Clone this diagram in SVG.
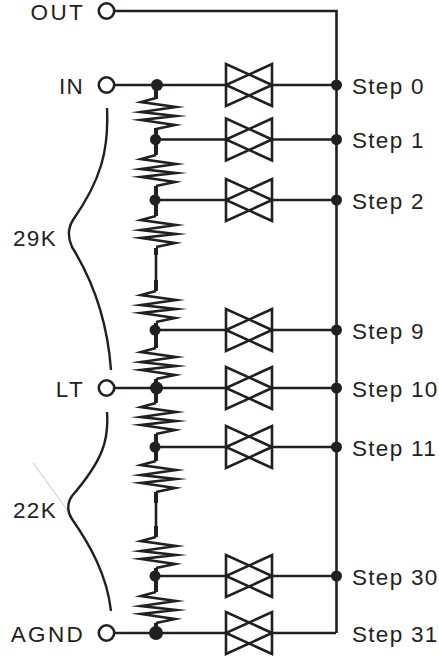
<svg xmlns="http://www.w3.org/2000/svg" xmlns:xlink="http://www.w3.org/1999/xlink" width="439" height="656" viewBox="0 0 439 656">
<style>
.w{fill:none;stroke:#231f20;stroke-width:2.6}
.th{fill:none;stroke:#231f20;stroke-width:4}
.sw{fill:none;stroke:#231f20;stroke-width:2.6;stroke-miterlimit:6}
.r{fill:none;stroke:#231f20;stroke-width:2.6;stroke-miterlimit:12;stroke-linejoin:miter}
.d{fill:#231f20}
.t{fill:#fff;stroke:#231f20;stroke-width:2.6}
text{font-family:"Liberation Sans",Arial,sans-serif;font-size:22.500px;fill:#231f20;letter-spacing:1.300px}
.e{text-anchor:end}
.x{letter-spacing:2.300px}
</style>
<defs>
<g id="sw"><path class="sw" d="M226-21V21L272 0ZM272-21V21L226 0Z"/></g>
<g id="res"><path class="r" d="M0-17L-15-13L20-8L-15-3L20 1L-15 5L19 10L0 14"/></g>
</defs>
<rect width="439" height="656" fill="#fff"/>
<g id="connectors">
<path class="w" d="M114 11H336.500V633M114 85H226M272 85H336M157 139.500H226M272 139.500H336M155 200H226M272 200H336M155 330H226M272 330H336M114 388H226M272 388H336M155 447H226M272 447H336M155 576H226M272 576H336M114 633H226M272 633H336"/>
<path class="th" d="M156 85V99M156 128V155M156 186V216M156 248V255M156 280V291M156 323V348M156 379V403M156 434V461M156 492V503M156 526V537M156 568V592M156 623V633"/>
<path class="w" d="M156 255V280M156 503V526"/>
<path d="M33 463L68 511" fill="none" stroke="#c8c8c8" stroke-width="1"/>
<path fill="none" stroke="#231f20" stroke-width="2.4" d="M107 108C109 150 101 180 73 220C68 228 67 236 72 247C90 276 107 315 111 370"/>
<path fill="none" stroke="#231f20" stroke-width="2.4" d="M107 412C109 440 103 460 72 496C67 503 67 512 72 519C90 545 107 575 111 611"/>
</g>
<g id="resistors">
<use xlink:href="#res" href="#res" x="156" y="115"/>
<use xlink:href="#res" href="#res" x="156" y="172"/>
<use xlink:href="#res" href="#res" x="156" y="233"/>
<use xlink:href="#res" href="#res" x="156" y="308"/>
<use xlink:href="#res" href="#res" x="156" y="365"/>
<use xlink:href="#res" href="#res" x="156" y="420"/>
<use xlink:href="#res" href="#res" x="156" y="478"/>
<use xlink:href="#res" href="#res" x="156" y="554"/>
<use xlink:href="#res" href="#res" x="156" y="609"/>
</g>
<g id="switches">
<use xlink:href="#sw" href="#sw" y="85"/>
<use xlink:href="#sw" href="#sw" y="139.500"/>
<use xlink:href="#sw" href="#sw" y="200"/>
<use xlink:href="#sw" href="#sw" y="330"/>
<use xlink:href="#sw" href="#sw" y="388"/>
<use xlink:href="#sw" href="#sw" y="447"/>
<use xlink:href="#sw" href="#sw" y="576"/>
<use xlink:href="#sw" href="#sw" y="633"/>
</g>
<g id="junctions">
<circle class="d" cx="157" cy="85" r="6"/>
<circle class="d" cx="155.500" cy="139.500" r="5.500"/>
<circle class="d" cx="155" cy="200" r="5.500"/>
<circle class="d" cx="155" cy="330" r="5.500"/>
<circle class="d" cx="156.500" cy="388" r="6.500"/>
<circle class="d" cx="155" cy="447" r="5.500"/>
<circle class="d" cx="155" cy="576" r="5.500"/>
<circle class="d" cx="156" cy="633" r="7"/>
<circle class="d" cx="336.500" cy="85" r="5.500"/>
<circle class="d" cx="336.500" cy="139.500" r="5.500"/>
<circle class="d" cx="336.500" cy="200" r="5.500"/>
<circle class="d" cx="336.500" cy="330" r="5.500"/>
<circle class="d" cx="336.500" cy="388" r="5.500"/>
<circle class="d" cx="336.500" cy="447" r="5.500"/>
<circle class="d" cx="336.500" cy="576" r="5.500"/>
</g>
<g id="node-out"><circle class="t" cx="106.500" cy="11" r="7.700"/><text class="e x" x="85" y="20">OUT</text></g>
<g id="node-in"><circle class="t" cx="106.500" cy="85" r="7.700"/><text class="e" x="84" y="94">IN</text></g>
<g id="node-lt"><circle class="t" cx="106.500" cy="388" r="7.700"/><text class="e x" x="85" y="397">LT</text></g>
<g id="node-agnd"><circle class="t" cx="106.500" cy="633" r="7.700"/><text class="e x" x="85" y="642">AGND</text></g>
<text x="13" y="246">29K</text>
<text x="13" y="518">22K</text>
<g id="labels">
<text x="352" y="94">Step 0</text>
<text x="352" y="148">Step 1</text>
<text x="352" y="209">Step 2</text>
<text x="352" y="339">Step 9</text>
<text x="352" y="397">Step 10</text>
<text x="352" y="456">Step 11</text>
<text x="352" y="585">Step 30</text>
<text x="352" y="642">Step 31</text>
</g>
</svg>
